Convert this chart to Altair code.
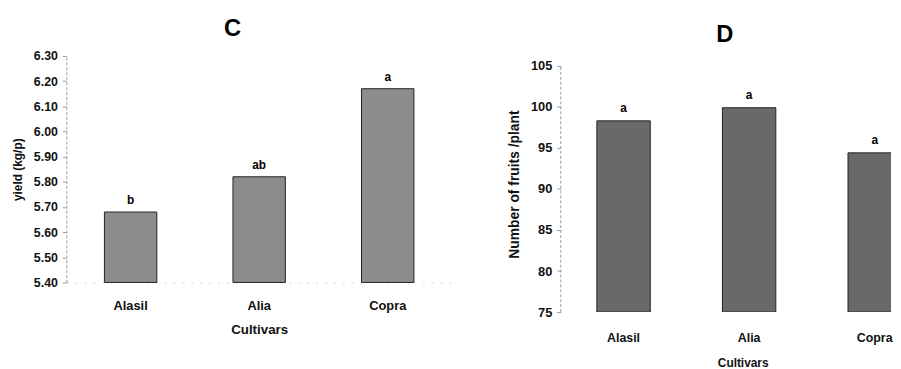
import altair as alt
import pandas as pd

cultivars = ["Alasil", "Alia", "Copra"]
yield_values = [5.68, 5.82, 6.17]
yield_letters = ["b", "ab", "a"]
fruit_values = [98.3, 99.9, 94.4]
fruit_letters = ["a", "a", "a"]
yield_ticks = [5.40, 5.50, 5.60, 5.70, 5.80, 5.90, 6.00, 6.10, 6.20, 6.30]
fruit_ticks = [75, 80, 85, 90, 95, 100, 105]

FONT = "Liberation Sans"

df_c = pd.DataFrame({"Cultivar": cultivars, "value": yield_values, "letter": yield_letters})
df_d = pd.DataFrame({"Cultivar": cultivars, "value": fruit_values, "letter": fruit_letters})
df_axis = pd.DataFrame({"lo": [fruit_ticks[0]], "hi": [fruit_ticks[-1]]})

# ---------------- Panel C ----------------
x_c = alt.X(
    "Cultivar:N", sort=cultivars,
    scale=alt.Scale(paddingInner=0, paddingOuter=0),
    axis=alt.Axis(title="Cultivars", labelAngle=0, ticks=False, tickSize=0,
                  labelPadding=17, titlePadding=11, domainColor="#d4d4d4",
                  domainDash=[2, 7], labelFontSize=13, titleFontSize=13.5),
)
y_c = alt.Y(
    "value:Q",
    scale=alt.Scale(domain=[yield_ticks[0], yield_ticks[-1]], nice=False, zero=False),
    axis=alt.Axis(title="yield (kg/p)", values=yield_ticks, format=".2f", tickSize=4,
                  labelPadding=5, titlePadding=9, domainColor="#9a9a9a",
                  domainDash=[3, 2], tickColor="#9a9a9a", grid=False, labelOverlap=False,
                  labelFontSize=12.5, titleFontSize=12),
)
bars_c = alt.Chart(df_c).mark_bar(size=53, color="#8c8c8c", stroke="#222222", strokeWidth=1).encode(
    x=x_c, y=y_c, y2=alt.datum(yield_ticks[0])
)
text_c = alt.Chart(df_c).mark_text(baseline="bottom", dy=-5, fontSize=12, fontWeight="bold", font=FONT).encode(
    x=x_c, y=y_c, text="letter:N"
)
panel_c = alt.layer(bars_c, text_c).properties(
    width=390, height=229,
    title=alt.TitleParams("C", fontSize=24, fontWeight="bold", font=FONT, offset=9, anchor="middle", dx=-27),
)

# ---------------- Panel D ----------------
x_d = alt.X(
    "Cultivar:N", sort=cultivars,
    scale=alt.Scale(paddingInner=0.74, paddingOuter=0.185, align=1),
    axis=alt.Axis(title="Cultivars", labelAngle=0, ticks=False, tickSize=0, domain=False,
                  labelPadding=20, titlePadding=14, titleX=184,
                  labelFontSize=12.5, titleFontSize=12),
)
y_scale_d = alt.Scale(domain=[75, 106.2], nice=False, zero=False)
y_axis_d = alt.Axis(title="Number of fruits /plant", values=fruit_ticks, format="d", tickSize=4,
                    labelPadding=5, titlePadding=9, domain=False, tickColor="#9a9a9a",
                    grid=False, labelOverlap=False, labelFontSize=13, titleFontSize=14)
y_d = alt.Y("value:Q", scale=y_scale_d, axis=y_axis_d)

bars_d = alt.Chart(df_d).mark_bar(size=54, color="#696969", stroke="#222222", strokeWidth=1, clip=True).encode(
    x=x_d, y=y_d, y2=alt.datum(fruit_ticks[0])
)
text_d = alt.Chart(df_d).mark_text(baseline="bottom", dy=-6, fontSize=12, fontWeight="bold", font=FONT).encode(
    x=x_d, y=y_d, text="letter:N"
)
axis_line_d = alt.Chart(df_axis).mark_rule(color="#9a9a9a", strokeDash=[3, 2], strokeWidth=1).encode(
    x=alt.value(0), y=alt.Y("lo:Q", scale=y_scale_d, axis=y_axis_d), y2="hi:Q"
)
panel_d = alt.layer(bars_d, text_d, axis_line_d).properties(
    width=334, height=259,
    title=alt.TitleParams("D", fontSize=24, fontWeight="bold", font=FONT, offset=9, anchor="middle", dx=-1),
)

chart = (
    alt.hconcat(panel_c, panel_d, spacing=56)
    .properties(padding={"left": 3, "top": 7.5, "right": 0, "bottom": 0}, background="white")
    .configure_view(stroke=None)
    .configure_axis(labelFont=FONT, titleFont=FONT, labelFontWeight="bold", titleFontWeight="bold",
                    labelColor="#111111", titleColor="#111111")
)

chart.save("out.html", embed_options={"renderer": "svg", "actions": False})
